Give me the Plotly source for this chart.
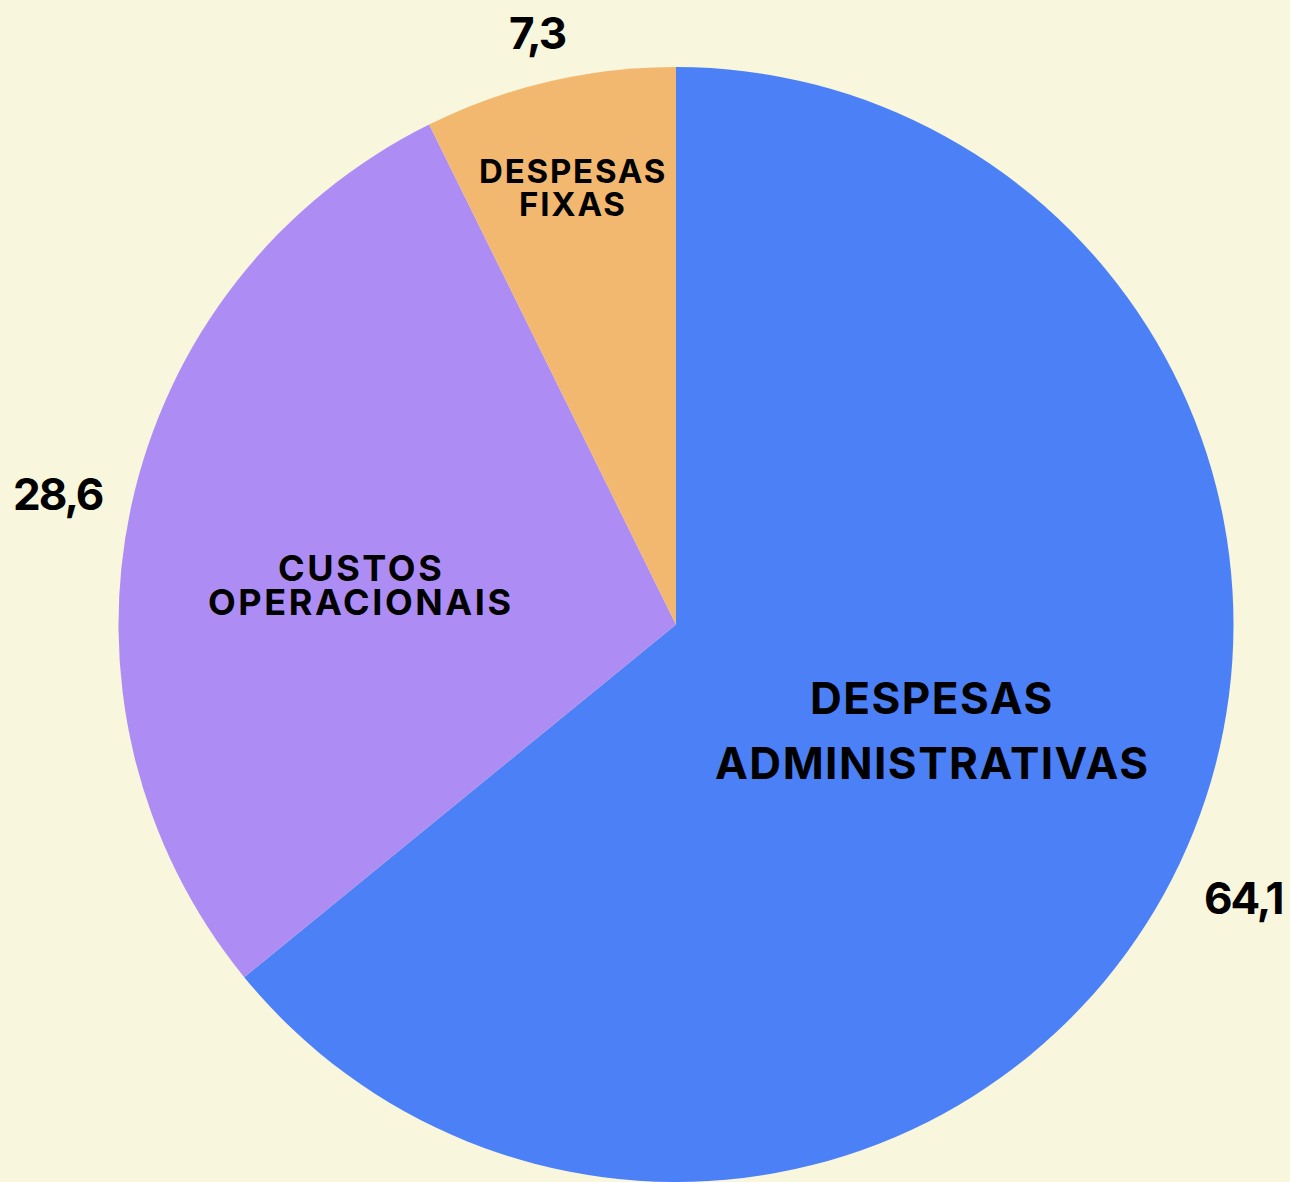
import math
import plotly.graph_objects as go

# ---- data ----
categories = ["DESPESAS ADMINISTRATIVAS", "CUSTOS OPERACIONAIS", "DESPESAS FIXAS"]
values = [64.1, 28.6, 7.3]
value_labels = ["64,1", "28,6", "7,3"]

# ---- styles ----
colors = ["#4C80F6", "#AD8CF3", "#F3B870"]
BG = "#F8F6DC"
W, H = 1290, 1182
CX, CY, R = 676, 624.5, 557.5          # pie centre / radius in pixels
FONT = "Inter, 'Open Sans', sans-serif"
TEXT_NUDGE = 4                          # px downward nudge for all text

inside_r = [0.494, 0.570, 0.812]        # label distance (fraction of radius)
inside_tweak = [-3.7, -4.4, 0.0]        # angular nudge from mid-angle (deg)
inside_font = [44, 36, 33]
inside_pitch = [65, 34.5, 33.5]
inside_spacing = [1.5, 2.6, 1.8]        # letter spacing px
outside_r = [1.127, 1.135, 1.096]       # value label distance
value_font = 44
value_spacing = -2

fig = go.Figure(go.Pie(
    labels=categories,
    values=values,
    sort=False,
    direction="clockwise",
    rotation=0,
    marker=dict(colors=colors, line=dict(width=0)),
    textinfo="none",
    hoverinfo="label+value",
    showlegend=False,
    domain=dict(x=[(CX - R) / W, (CX + R) / W],
                y=[max(0, 1 - (CY + R) / H), 1 - (CY - R) / H]),
))


def to_paper(px, py):
    return px / W, 1 - (py + TEXT_NUDGE) / H


def spaced(text, sp):
    return f'<span style="letter-spacing:{sp}px">{text}</span>'


annotations = []
total = sum(values)
cum = 0.0
for i, (cat, v) in enumerate(zip(categories, values)):
    mid = (cum + v / 2) / total * 360.0
    cum += v
    # inside category label
    a = math.radians(mid + inside_tweak[i])
    px = CX + R * inside_r[i] * math.sin(a)
    py = CY - R * inside_r[i] * math.cos(a)
    lines = cat.split(" ")
    n = len(lines)
    for j, line in enumerate(lines):
        off = (j - (n - 1) / 2) * inside_pitch[i]
        x, y = to_paper(px, py + off)
        annotations.append(dict(
            x=x, y=y, xref="paper", yref="paper",
            text=spaced(line, inside_spacing[i]), showarrow=False,
            xanchor="center", yanchor="middle",
            font=dict(family=FONT, size=inside_font[i], color="black", weight=700),
        ))
    # outside value label
    a = math.radians(mid)
    px = CX + R * outside_r[i] * math.sin(a)
    py = CY - R * outside_r[i] * math.cos(a)
    x, y = to_paper(px, py)
    annotations.append(dict(
        x=x, y=y, xref="paper", yref="paper",
        text=spaced(value_labels[i], value_spacing), showarrow=False,
        xanchor="center", yanchor="middle",
        font=dict(family=FONT, size=value_font, color="black", weight=700),
    ))

fig.update_layout(
    width=W, height=H,
    margin=dict(l=0, r=0, t=0, b=0),
    paper_bgcolor=BG, plot_bgcolor=BG,
    showlegend=False,
    annotations=annotations,
)

fig.write_html(
    "out.html",
    config={"displayModeBar": False},
    post_script="document.body.style.margin='0';document.body.style.overflow='hidden';",
)
